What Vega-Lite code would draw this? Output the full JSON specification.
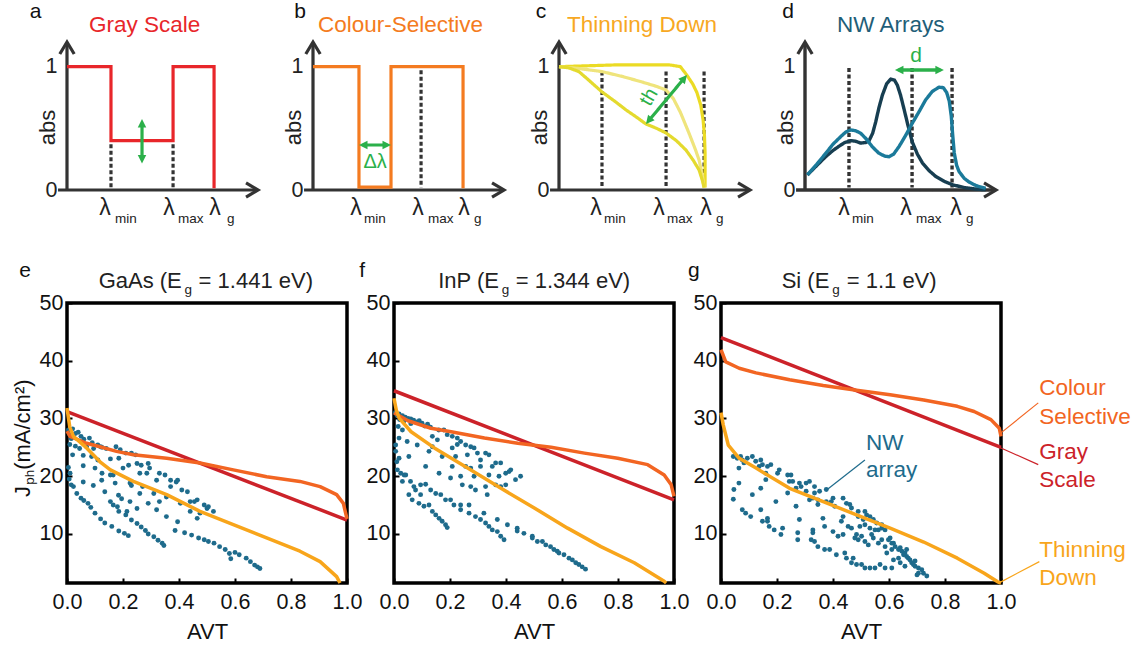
{
"$schema":"https://vega.github.io/schema/vega-lite/v6.json",
"autosize":{"type":"none"},
"padding":{"left":67,"top":42,"right":1069,"bottom":603},
"config":{"font":"Liberation Sans","view":{"stroke":null},"axis":{"grid":false,"labelFont":"Liberation Sans","titleFont":"Liberation Sans"},"text":{"font":"Liberation Sans"}},
"spacing":32,
"resolve":{"scale":{"x":"independent","y":"independent","color":"independent","strokeDash":"independent"}},
"datasets":{
"schem":[
{"p":"a","s":"ax","c":"axis","k":"solid","o":1,"x":-0.045,"y":0},{"p":"a","s":"ax","c":"axis","k":"solid","o":2,"x":0.955,"y":0},
{"p":"a","s":"ay","c":"axis","k":"solid","o":1,"x":0,"y":0},{"p":"a","s":"ay","c":"axis","k":"solid","o":2,"x":0,"y":1.19},
{"p":"a","s":"d1","c":"axis","k":"dot","o":1,"x":0.221,"y":0.37},{"p":"a","s":"d1","c":"axis","k":"dot","o":2,"x":0.221,"y":0.02},
{"p":"a","s":"d2","c":"axis","k":"dot","o":1,"x":0.533,"y":0.37},{"p":"a","s":"d2","c":"axis","k":"dot","o":2,"x":0.533,"y":0.02},
{"p":"a","s":"gray","c":"gray","k":"solid","o":1,"x":0,"y":1},{"p":"a","s":"gray","c":"gray","k":"solid","o":2,"x":0.221,"y":1},{"p":"a","s":"gray","c":"gray","k":"solid","o":3,"x":0.221,"y":0.4},{"p":"a","s":"gray","c":"gray","k":"solid","o":4,"x":0.533,"y":0.4},{"p":"a","s":"gray","c":"gray","k":"solid","o":5,"x":0.533,"y":1},{"p":"a","s":"gray","c":"gray","k":"solid","o":6,"x":0.739,"y":1},{"p":"a","s":"gray","c":"gray","k":"solid","o":7,"x":0.739,"y":0.015},
{"p":"a","s":"g1","c":"green","k":"solid","o":1,"x":0.377,"y":0.54},{"p":"a","s":"g1","c":"green","k":"solid","o":2,"x":0.377,"y":0.25},
{"p":"b","s":"ax","c":"axis","k":"solid","o":1,"x":-0.045,"y":0},{"p":"b","s":"ax","c":"axis","k":"solid","o":2,"x":0.955,"y":0},
{"p":"b","s":"ay","c":"axis","k":"solid","o":1,"x":0,"y":0},{"p":"b","s":"ay","c":"axis","k":"solid","o":2,"x":0,"y":1.19},
{"p":"b","s":"d1","c":"axis","k":"dot","o":1,"x":0.543,"y":0.97},{"p":"b","s":"d1","c":"axis","k":"dot","o":2,"x":0.543,"y":0.02},
{"p":"b","s":"col","c":"colour","k":"solid","o":1,"x":0,"y":1},{"p":"b","s":"col","c":"colour","k":"solid","o":2,"x":0.231,"y":1},{"p":"b","s":"col","c":"colour","k":"solid","o":3,"x":0.231,"y":0.024},{"p":"b","s":"col","c":"colour","k":"solid","o":4,"x":0.392,"y":0.024},{"p":"b","s":"col","c":"colour","k":"solid","o":5,"x":0.392,"y":1},{"p":"b","s":"col","c":"colour","k":"solid","o":6,"x":0.754,"y":1},{"p":"b","s":"col","c":"colour","k":"solid","o":7,"x":0.754,"y":0.015},
{"p":"b","s":"g1","c":"green","k":"solid","o":1,"x":0.25,"y":0.365},{"p":"b","s":"g1","c":"green","k":"solid","o":2,"x":0.373,"y":0.365},
{"p":"c","s":"ax","c":"axis","k":"solid","o":1,"x":-0.045,"y":0},{"p":"c","s":"ax","c":"axis","k":"solid","o":2,"x":0.955,"y":0},
{"p":"c","s":"ay","c":"axis","k":"solid","o":1,"x":0,"y":0},{"p":"c","s":"ay","c":"axis","k":"solid","o":2,"x":0,"y":1.19},
{"p":"c","s":"d1","c":"axis","k":"dot","o":1,"x":0.216,"y":0.96},{"p":"c","s":"d1","c":"axis","k":"dot","o":2,"x":0.216,"y":0.02},
{"p":"c","s":"d2","c":"axis","k":"dot","o":1,"x":0.538,"y":0.96},{"p":"c","s":"d2","c":"axis","k":"dot","o":2,"x":0.538,"y":0.02},
{"p":"c","s":"d3","c":"axis","k":"dot","o":1,"x":0.729,"y":0.96},{"p":"c","s":"d3","c":"axis","k":"dot","o":2,"x":0.729,"y":0.02},
{"p":"c","s":"t1","c":"thin1","k":"solid","o":1,"x":0,"y":1.0},{"p":"c","s":"t1","c":"thin1","k":"solid","o":2,"x":0.3,"y":1.015},{"p":"c","s":"t1","c":"thin1","k":"solid","o":3,"x":0.553,"y":1.015},{"p":"c","s":"t1","c":"thin1","k":"solid","o":4,"x":0.61,"y":1.0},{"p":"c","s":"t1","c":"thin1","k":"solid","o":5,"x":0.643,"y":0.93},{"p":"c","s":"t1","c":"thin1","k":"solid","o":6,"x":0.672,"y":0.86},{"p":"c","s":"t1","c":"thin1","k":"solid","o":7,"x":0.693,"y":0.79},{"p":"c","s":"t1","c":"thin1","k":"solid","o":8,"x":0.712,"y":0.69},{"p":"c","s":"t1","c":"thin1","k":"solid","o":9,"x":0.724,"y":0.57},{"p":"c","s":"t1","c":"thin1","k":"solid","o":10,"x":0.731,"y":0.44},{"p":"c","s":"t1","c":"thin1","k":"solid","o":11,"x":0.734,"y":0.3},{"p":"c","s":"t1","c":"thin1","k":"solid","o":12,"x":0.734,"y":0.02},
{"p":"c","s":"t2","c":"thin2","k":"solid","o":1,"x":0,"y":1.0},{"p":"c","s":"t2","c":"thin2","k":"solid","o":2,"x":0.1,"y":0.985},{"p":"c","s":"t2","c":"thin2","k":"solid","o":3,"x":0.216,"y":0.96},{"p":"c","s":"t2","c":"thin2","k":"solid","o":4,"x":0.32,"y":0.92},{"p":"c","s":"t2","c":"thin2","k":"solid","o":5,"x":0.417,"y":0.876},{"p":"c","s":"t2","c":"thin2","k":"solid","o":6,"x":0.49,"y":0.84},{"p":"c","s":"t2","c":"thin2","k":"solid","o":7,"x":0.538,"y":0.811},{"p":"c","s":"t2","c":"thin2","k":"solid","o":8,"x":0.575,"y":0.74},{"p":"c","s":"t2","c":"thin2","k":"solid","o":9,"x":0.61,"y":0.63},{"p":"c","s":"t2","c":"thin2","k":"solid","o":10,"x":0.653,"y":0.462},{"p":"c","s":"t2","c":"thin2","k":"solid","o":11,"x":0.685,"y":0.33},{"p":"c","s":"t2","c":"thin2","k":"solid","o":12,"x":0.704,"y":0.243},{"p":"c","s":"t2","c":"thin2","k":"solid","o":13,"x":0.72,"y":0.12},{"p":"c","s":"t2","c":"thin2","k":"solid","o":14,"x":0.729,"y":0.02},
{"p":"c","s":"t3","c":"thin3","k":"solid","o":1,"x":0,"y":1.0},{"p":"c","s":"t3","c":"thin3","k":"solid","o":2,"x":0.05,"y":0.99},{"p":"c","s":"t3","c":"thin3","k":"solid","o":3,"x":0.1,"y":0.96},{"p":"c","s":"t3","c":"thin3","k":"solid","o":4,"x":0.15,"y":0.89},{"p":"c","s":"t3","c":"thin3","k":"solid","o":5,"x":0.216,"y":0.795},{"p":"c","s":"t3","c":"thin3","k":"solid","o":6,"x":0.28,"y":0.72},{"p":"c","s":"t3","c":"thin3","k":"solid","o":7,"x":0.337,"y":0.649},{"p":"c","s":"t3","c":"thin3","k":"solid","o":8,"x":0.39,"y":0.59},{"p":"c","s":"t3","c":"thin3","k":"solid","o":9,"x":0.437,"y":0.535},{"p":"c","s":"t3","c":"thin3","k":"solid","o":10,"x":0.49,"y":0.5},{"p":"c","s":"t3","c":"thin3","k":"solid","o":11,"x":0.538,"y":0.462},{"p":"c","s":"t3","c":"thin3","k":"solid","o":12,"x":0.59,"y":0.4},{"p":"c","s":"t3","c":"thin3","k":"solid","o":13,"x":0.638,"y":0.324},{"p":"c","s":"t3","c":"thin3","k":"solid","o":14,"x":0.675,"y":0.24},{"p":"c","s":"t3","c":"thin3","k":"solid","o":15,"x":0.704,"y":0.162},{"p":"c","s":"t3","c":"thin3","k":"solid","o":16,"x":0.72,"y":0.08},{"p":"c","s":"t3","c":"thin3","k":"solid","o":17,"x":0.729,"y":0.02},
{"p":"c","s":"g1","c":"green","k":"solid","o":1,"x":0.462,"y":0.583},{"p":"c","s":"g1","c":"green","k":"solid","o":2,"x":0.618,"y":0.885},
{"p":"d","s":"ax","c":"axis","k":"solid","o":1,"x":-0.045,"y":0},{"p":"d","s":"ax","c":"axis","k":"solid","o":2,"x":0.955,"y":0},
{"p":"d","s":"ay","c":"axis","k":"solid","o":1,"x":0,"y":0},{"p":"d","s":"ay","c":"axis","k":"solid","o":2,"x":0,"y":1.19},
{"p":"d","s":"d1","c":"axis","k":"dot","o":1,"x":0.221,"y":0.99},{"p":"d","s":"d1","c":"axis","k":"dot","o":2,"x":0.221,"y":0.02},
{"p":"d","s":"d2","c":"axis","k":"dot","o":1,"x":0.538,"y":0.99},{"p":"d","s":"d2","c":"axis","k":"dot","o":2,"x":0.538,"y":0.02},
{"p":"d","s":"d3","c":"axis","k":"dot","o":1,"x":0.739,"y":0.99},{"p":"d","s":"d3","c":"axis","k":"dot","o":2,"x":0.739,"y":0.02},
{"p":"d","s":"n1","c":"nw1","k":"solid","o":1,"x":0.012,"y":0.122},{"p":"d","s":"n1","c":"nw1","k":"solid","o":2,"x":0.06,"y":0.2},{"p":"d","s":"n1","c":"nw1","k":"solid","o":3,"x":0.104,"y":0.27},{"p":"d","s":"n1","c":"nw1","k":"solid","o":4,"x":0.14,"y":0.32},{"p":"d","s":"n1","c":"nw1","k":"solid","o":5,"x":0.171,"y":0.355},{"p":"d","s":"n1","c":"nw1","k":"solid","o":6,"x":0.2,"y":0.385},{"p":"d","s":"n1","c":"nw1","k":"solid","o":7,"x":0.23,"y":0.4},{"p":"d","s":"n1","c":"nw1","k":"solid","o":8,"x":0.255,"y":0.395},{"p":"d","s":"n1","c":"nw1","k":"solid","o":9,"x":0.28,"y":0.38},{"p":"d","s":"n1","c":"nw1","k":"solid","o":10,"x":0.305,"y":0.385},{"p":"d","s":"n1","c":"nw1","k":"solid","o":11,"x":0.322,"y":0.4},{"p":"d","s":"n1","c":"nw1","k":"solid","o":12,"x":0.34,"y":0.46},{"p":"d","s":"n1","c":"nw1","k":"solid","o":13,"x":0.355,"y":0.55},{"p":"d","s":"n1","c":"nw1","k":"solid","o":14,"x":0.372,"y":0.67},{"p":"d","s":"n1","c":"nw1","k":"solid","o":15,"x":0.389,"y":0.77},{"p":"d","s":"n1","c":"nw1","k":"solid","o":16,"x":0.41,"y":0.86},{"p":"d","s":"n1","c":"nw1","k":"solid","o":17,"x":0.431,"y":0.9},{"p":"d","s":"n1","c":"nw1","k":"solid","o":18,"x":0.45,"y":0.89},{"p":"d","s":"n1","c":"nw1","k":"solid","o":19,"x":0.464,"y":0.85},{"p":"d","s":"n1","c":"nw1","k":"solid","o":20,"x":0.48,"y":0.77},{"p":"d","s":"n1","c":"nw1","k":"solid","o":21,"x":0.497,"y":0.66},{"p":"d","s":"n1","c":"nw1","k":"solid","o":22,"x":0.518,"y":0.52},{"p":"d","s":"n1","c":"nw1","k":"solid","o":23,"x":0.539,"y":0.39},{"p":"d","s":"n1","c":"nw1","k":"solid","o":24,"x":0.565,"y":0.29},{"p":"d","s":"n1","c":"nw1","k":"solid","o":25,"x":0.59,"y":0.22},{"p":"d","s":"n1","c":"nw1","k":"solid","o":26,"x":0.625,"y":0.155},{"p":"d","s":"n1","c":"nw1","k":"solid","o":27,"x":0.657,"y":0.11},{"p":"d","s":"n1","c":"nw1","k":"solid","o":28,"x":0.7,"y":0.07},{"p":"d","s":"n1","c":"nw1","k":"solid","o":29,"x":0.74,"y":0.043},{"p":"d","s":"n1","c":"nw1","k":"solid","o":30,"x":0.8,"y":0.02},{"p":"d","s":"n1","c":"nw1","k":"solid","o":31,"x":0.858,"y":0.008},{"p":"d","s":"n1","c":"nw1","k":"solid","o":32,"x":0.908,"y":0.002},
{"p":"d","s":"n2","c":"nw2","k":"solid","o":1,"x":0.012,"y":0.122},{"p":"d","s":"n2","c":"nw2","k":"solid","o":2,"x":0.06,"y":0.21},{"p":"d","s":"n2","c":"nw2","k":"solid","o":3,"x":0.104,"y":0.297},{"p":"d","s":"n2","c":"nw2","k":"solid","o":4,"x":0.14,"y":0.37},{"p":"d","s":"n2","c":"nw2","k":"solid","o":5,"x":0.179,"y":0.432},{"p":"d","s":"n2","c":"nw2","k":"solid","o":6,"x":0.205,"y":0.47},{"p":"d","s":"n2","c":"nw2","k":"solid","o":7,"x":0.23,"y":0.487},{"p":"d","s":"n2","c":"nw2","k":"solid","o":8,"x":0.255,"y":0.48},{"p":"d","s":"n2","c":"nw2","k":"solid","o":9,"x":0.28,"y":0.46},{"p":"d","s":"n2","c":"nw2","k":"solid","o":10,"x":0.31,"y":0.41},{"p":"d","s":"n2","c":"nw2","k":"solid","o":11,"x":0.338,"y":0.351},{"p":"d","s":"n2","c":"nw2","k":"solid","o":12,"x":0.37,"y":0.3},{"p":"d","s":"n2","c":"nw2","k":"solid","o":13,"x":0.4,"y":0.275},{"p":"d","s":"n2","c":"nw2","k":"solid","o":14,"x":0.422,"y":0.27},{"p":"d","s":"n2","c":"nw2","k":"solid","o":15,"x":0.445,"y":0.29},{"p":"d","s":"n2","c":"nw2","k":"solid","o":16,"x":0.472,"y":0.351},{"p":"d","s":"n2","c":"nw2","k":"solid","o":17,"x":0.505,"y":0.44},{"p":"d","s":"n2","c":"nw2","k":"solid","o":18,"x":0.539,"y":0.541},{"p":"d","s":"n2","c":"nw2","k":"solid","o":19,"x":0.575,"y":0.64},{"p":"d","s":"n2","c":"nw2","k":"solid","o":20,"x":0.606,"y":0.73},{"p":"d","s":"n2","c":"nw2","k":"solid","o":21,"x":0.64,"y":0.8},{"p":"d","s":"n2","c":"nw2","k":"solid","o":22,"x":0.673,"y":0.833},{"p":"d","s":"n2","c":"nw2","k":"solid","o":23,"x":0.695,"y":0.83},{"p":"d","s":"n2","c":"nw2","k":"solid","o":24,"x":0.712,"y":0.79},{"p":"d","s":"n2","c":"nw2","k":"solid","o":25,"x":0.725,"y":0.72},{"p":"d","s":"n2","c":"nw2","k":"solid","o":26,"x":0.735,"y":0.6},{"p":"d","s":"n2","c":"nw2","k":"solid","o":27,"x":0.742,"y":0.45},{"p":"d","s":"n2","c":"nw2","k":"solid","o":28,"x":0.75,"y":0.3},{"p":"d","s":"n2","c":"nw2","k":"solid","o":29,"x":0.762,"y":0.2},{"p":"d","s":"n2","c":"nw2","k":"solid","o":30,"x":0.774,"y":0.15},{"p":"d","s":"n2","c":"nw2","k":"solid","o":31,"x":0.8,"y":0.095},{"p":"d","s":"n2","c":"nw2","k":"solid","o":32,"x":0.824,"y":0.065},{"p":"d","s":"n2","c":"nw2","k":"solid","o":33,"x":0.86,"y":0.035},{"p":"d","s":"n2","c":"nw2","k":"solid","o":34,"x":0.908,"y":0.014},
{"p":"d","s":"g1","c":"green","k":"solid","o":1,"x":0.47,"y":0.973},{"p":"d","s":"g1","c":"green","k":"solid","o":2,"x":0.68,"y":0.973}
],
"heads":[
{"p":"a","k":"chev","x":0.96,"y":0,"ang":90},{"p":"a","k":"chev","x":0,"y":1.2,"ang":0},
{"p":"b","k":"chev","x":0.96,"y":0,"ang":90},{"p":"b","k":"chev","x":0,"y":1.2,"ang":0},
{"p":"c","k":"chev","x":0.96,"y":0,"ang":90},{"p":"c","k":"chev","x":0,"y":1.2,"ang":0},
{"p":"d","k":"chev","x":0.96,"y":0,"ang":90},{"p":"d","k":"chev","x":0,"y":1.2,"ang":0},
{"p":"a","k":"tri","x":0.377,"y":0.575,"ang":0},{"p":"a","k":"tri","x":0.377,"y":0.215,"ang":180},
{"p":"b","k":"tri","x":0.231,"y":0.365,"ang":270},{"p":"b","k":"tri","x":0.392,"y":0.365,"ang":90},
{"p":"c","k":"tri","x":0.643,"y":0.933,"ang":39.4},{"p":"c","k":"tri","x":0.437,"y":0.535,"ang":219.4},
{"p":"d","k":"tri","x":0.452,"y":0.973,"ang":270},{"p":"d","k":"tri","x":0.698,"y":0.973,"ang":90}
],
"tlab":[
{"p":"a","k":"letter","t":"a","x":-0.158,"y":1.395},{"p":"a","k":"title","c":"gray","t":"Gray Scale","x":0.111,"y":1.281},
{"p":"a","k":"lam","t":"λ","x":0.191,"y":-0.203},{"p":"a","k":"lam","t":"λ","x":0.513,"y":-0.203},{"p":"a","k":"lam","t":"λ","x":0.744,"y":-0.203},
{"p":"a","k":"sub","t":"min","x":0.241,"y":-0.268},{"p":"a","k":"sub","t":"max","x":0.558,"y":-0.268},{"p":"a","k":"sub","t":"g","x":0.804,"y":-0.268},
{"p":"b","k":"letter","t":"b","x":-0.065,"y":1.395},{"p":"b","k":"title","c":"colour","t":"Colour-Selective","x":0.025,"y":1.281},
{"p":"b","k":"lam","t":"λ","x":0.216,"y":-0.203},{"p":"b","k":"lam","t":"λ","x":0.528,"y":-0.203},{"p":"b","k":"lam","t":"λ","x":0.759,"y":-0.203},
{"p":"b","k":"sub","t":"min","x":0.256,"y":-0.268},{"p":"b","k":"sub","t":"max","x":0.578,"y":-0.268},{"p":"b","k":"sub","t":"g","x":0.809,"y":-0.268},
{"p":"b","k":"green","t":"Δλ","x":0.312,"y":0.178,"ang":0},
{"p":"c","k":"letter","t":"c","x":-0.09,"y":1.395},{"p":"c","k":"title","c":"thinT","t":"Thinning Down","x":0.04,"y":1.281},
{"p":"c","k":"lam","t":"λ","x":0.186,"y":-0.203},{"p":"c","k":"lam","t":"λ","x":0.503,"y":-0.203},{"p":"c","k":"lam","t":"λ","x":0.739,"y":-0.203},
{"p":"c","k":"sub","t":"min","x":0.226,"y":-0.268},{"p":"c","k":"sub","t":"max","x":0.543,"y":-0.268},{"p":"c","k":"sub","t":"g","x":0.789,"y":-0.268},
{"p":"c","k":"green","t":"th","x":0.452,"y":0.754,"ang":-60},
{"p":"d","k":"letter","t":"d","x":-0.085,"y":1.395},{"p":"d","k":"title","c":"nwT","t":"NW Arrays","x":0.161,"y":1.281},
{"p":"d","k":"lam","t":"λ","x":0.196,"y":-0.203},{"p":"d","k":"lam","t":"λ","x":0.508,"y":-0.203},{"p":"d","k":"lam","t":"λ","x":0.759,"y":-0.203},
{"p":"d","k":"sub","t":"min","x":0.236,"y":-0.268},{"p":"d","k":"sub","t":"max","x":0.558,"y":-0.268},{"p":"d","k":"sub","t":"g","x":0.809,"y":-0.268},
{"p":"d","k":"green","t":"d","x":0.558,"y":1.04,"ang":0}
],
"jl":[
{"p":"e","s":"gs","o":1,"avt":0,"jph":31.2},{"p":"e","s":"gs","o":2,"avt":1,"jph":12.4},
{"p":"e","s":"cs","o":1,"avt":0,"jph":27.8},{"p":"e","s":"cs","o":2,"avt":0.011,"jph":26.9},{"p":"e","s":"cs","o":3,"avt":0.07,"jph":25.7},{"p":"e","s":"cs","o":4,"avt":0.118,"jph":25.1},{"p":"e","s":"cs","o":5,"avt":0.177,"jph":24.3},{"p":"e","s":"cs","o":6,"avt":0.237,"jph":23.7},{"p":"e","s":"cs","o":7,"avt":0.356,"jph":23.1},{"p":"e","s":"cs","o":8,"avt":0.475,"jph":22.3},{"p":"e","s":"cs","o":9,"avt":0.594,"jph":21.1},{"p":"e","s":"cs","o":10,"avt":0.713,"jph":19.9},{"p":"e","s":"cs","o":11,"avt":0.832,"jph":19.1},{"p":"e","s":"cs","o":12,"avt":0.904,"jph":18.2},{"p":"e","s":"cs","o":13,"avt":0.963,"jph":16.8},{"p":"e","s":"cs","o":14,"avt":0.987,"jph":15.3},{"p":"e","s":"cs","o":15,"avt":1.0,"jph":12.6},
{"p":"e","s":"td","o":1,"avt":0,"jph":31.8},{"p":"e","s":"td","o":2,"avt":0.01,"jph":28.5},{"p":"e","s":"td","o":3,"avt":0.023,"jph":26.9},{"p":"e","s":"td","o":4,"avt":0.07,"jph":24.9},{"p":"e","s":"td","o":5,"avt":0.118,"jph":22.5},{"p":"e","s":"td","o":6,"avt":0.155,"jph":21.1},{"p":"e","s":"td","o":7,"avt":0.237,"jph":19.1},{"p":"e","s":"td","o":8,"avt":0.356,"jph":16.8},{"p":"e","s":"td","o":9,"avt":0.475,"jph":13.9},{"p":"e","s":"td","o":10,"avt":0.594,"jph":11.6},{"p":"e","s":"td","o":11,"avt":0.713,"jph":9.3},{"p":"e","s":"td","o":12,"avt":0.832,"jph":7.0},{"p":"e","s":"td","o":13,"avt":0.904,"jph":5.2},{"p":"e","s":"td","o":14,"avt":0.963,"jph":2.6},{"p":"e","s":"td","o":15,"avt":0.975,"jph":1.5},
{"p":"f","s":"gs","o":1,"avt":0,"jph":34.8},{"p":"f","s":"gs","o":2,"avt":1,"jph":15.9},
{"p":"f","s":"cs","o":1,"avt":0,"jph":31.0},{"p":"f","s":"cs","o":2,"avt":0.05,"jph":29.6},{"p":"f","s":"cs","o":3,"avt":0.132,"jph":28.3},{"p":"f","s":"cs","o":4,"avt":0.204,"jph":27.7},{"p":"f","s":"cs","o":5,"avt":0.323,"jph":26.6},{"p":"f","s":"cs","o":6,"avt":0.442,"jph":25.7},{"p":"f","s":"cs","o":7,"avt":0.561,"jph":25.0},{"p":"f","s":"cs","o":8,"avt":0.68,"jph":24.0},{"p":"f","s":"cs","o":9,"avt":0.799,"jph":23.1},{"p":"f","s":"cs","o":10,"avt":0.906,"jph":22.0},{"p":"f","s":"cs","o":11,"avt":0.965,"jph":20.2},{"p":"f","s":"cs","o":12,"avt":0.99,"jph":18.5},{"p":"f","s":"cs","o":13,"avt":1.0,"jph":16.5},
{"p":"f","s":"td","o":1,"avt":0,"jph":33.5},{"p":"f","s":"td","o":2,"avt":0.008,"jph":31.5},{"p":"f","s":"td","o":3,"avt":0.019,"jph":30.0},{"p":"f","s":"td","o":4,"avt":0.061,"jph":27.7},{"p":"f","s":"td","o":5,"avt":0.144,"jph":24.9},{"p":"f","s":"td","o":6,"avt":0.263,"jph":21.4},{"p":"f","s":"td","o":7,"avt":0.382,"jph":17.9},{"p":"f","s":"td","o":8,"avt":0.501,"jph":14.5},{"p":"f","s":"td","o":9,"avt":0.62,"jph":11.0},{"p":"f","s":"td","o":10,"avt":0.739,"jph":7.8},{"p":"f","s":"td","o":11,"avt":0.858,"jph":5.0},{"p":"f","s":"td","o":12,"avt":0.965,"jph":1.8},{"p":"f","s":"td","o":13,"avt":0.972,"jph":1.5},
{"p":"g","s":"gs","o":1,"avt":0,"jph":44.0},{"p":"g","s":"gs","o":2,"avt":1,"jph":25.0},
{"p":"g","s":"cs","o":1,"avt":0,"jph":41.9},{"p":"g","s":"cs","o":2,"avt":0.017,"jph":39.8},{"p":"g","s":"cs","o":3,"avt":0.065,"jph":38.7},{"p":"g","s":"cs","o":4,"avt":0.125,"jph":37.9},{"p":"g","s":"cs","o":5,"avt":0.245,"jph":36.7},{"p":"g","s":"cs","o":6,"avt":0.365,"jph":35.7},{"p":"g","s":"cs","o":7,"avt":0.484,"jph":34.9},{"p":"g","s":"cs","o":8,"avt":0.604,"jph":34.1},{"p":"g","s":"cs","o":9,"avt":0.724,"jph":33.2},{"p":"g","s":"cs","o":10,"avt":0.844,"jph":32.1},{"p":"g","s":"cs","o":11,"avt":0.904,"jph":31.2},{"p":"g","s":"cs","o":12,"avt":0.964,"jph":29.8},{"p":"g","s":"cs","o":13,"avt":0.994,"jph":28.3},{"p":"g","s":"cs","o":14,"avt":1.0,"jph":26.9},
{"p":"g","s":"td","o":1,"avt":0,"jph":31.0},{"p":"g","s":"td","o":2,"avt":0.008,"jph":28.9},{"p":"g","s":"td","o":3,"avt":0.026,"jph":25.4},{"p":"g","s":"td","o":4,"avt":0.065,"jph":23.1},{"p":"g","s":"td","o":5,"avt":0.125,"jph":21.4},{"p":"g","s":"td","o":6,"avt":0.245,"jph":17.9},{"p":"g","s":"td","o":7,"avt":0.365,"jph":15.6},{"p":"g","s":"td","o":8,"avt":0.484,"jph":13.3},{"p":"g","s":"td","o":9,"avt":0.604,"jph":11.0},{"p":"g","s":"td","o":10,"avt":0.724,"jph":8.6},{"p":"g","s":"td","o":11,"avt":0.844,"jph":5.8},{"p":"g","s":"td","o":12,"avt":0.94,"jph":3.2},{"p":"g","s":"td","o":13,"avt":0.988,"jph":1.7},{"p":"g","s":"td","o":14,"avt":1.0,"jph":1.5}
],
"lead":[
{"s":"cs","o":1,"avt":1.0,"jph":27.5},{"s":"cs","o":2,"avt":1.133,"jph":32.7},
{"s":"gs","o":1,"avt":0.99,"jph":25.1},{"s":"gs","o":2,"avt":1.133,"jph":22.0},
{"s":"td","o":1,"avt":1.0,"jph":1.7},{"s":"td","o":2,"avt":1.137,"jph":5.2},
{"s":"nw","o":1,"avt":0.377,"jph":17.6},{"s":"nw","o":2,"avt":0.514,"jph":22.8}
],
"bt":[
{"p":"e","k":"tl","t":"GaAs (E","avt":0.41,"jph":52.6},{"p":"e","k":"ts","t":"g","avt":0.433,"jph":51.6},{"p":"e","k":"tr","t":"= 1.441 eV)","avt":0.47,"jph":52.6},{"p":"e","k":"let","t":"e","avt":-0.15,"jph":54.5},
{"p":"e","k":"yb","t":"J","avt":-0.132,"jph":16.4},{"p":"e","k":"yb","t":"(mA/cm²)","avt":-0.132,"jph":21.1},{"p":"e","k":"ys","t":"ph","avt":-0.118,"jph":18.5},
{"p":"f","k":"tl","t":"InP (E","avt":0.375,"jph":52.6},{"p":"f","k":"ts","t":"g","avt":0.398,"jph":51.6},{"p":"f","k":"tr","t":"= 1.344 eV)","avt":0.435,"jph":52.6},{"p":"f","k":"let","t":"f","avt":-0.114,"jph":54.5},
{"p":"g","k":"tl","t":"Si (E","avt":0.387,"jph":52.6},{"p":"g","k":"ts","t":"g","avt":0.411,"jph":51.6},{"p":"g","k":"tr","t":"= 1.1 eV)","avt":0.449,"jph":52.6},{"p":"g","k":"let","t":"g","avt":-0.097,"jph":54.5},
{"p":"g","k":"ann","c":"cs","t":"Colour","avt":1.137,"jph":35.3},{"p":"g","k":"ann","c":"cs","t":"Selective","avt":1.137,"jph":30.3},
{"p":"g","k":"ann","c":"gs","t":"Gray","avt":1.137,"jph":24.2},{"p":"g","k":"ann","c":"gs","t":"Scale","avt":1.137,"jph":19.4},
{"p":"g","k":"ann","c":"td","t":"Thinning","avt":1.137,"jph":7.3},{"p":"g","k":"ann","c":"td","t":"Down","avt":1.137,"jph":2.4},
{"p":"g","k":"ann","c":"nw","t":"NW","avt":0.518,"jph":25.8},{"p":"g","k":"ann","c":"nw","t":"array","avt":0.518,"jph":21.1}
],
"dots":[
{"p":"e","avt":0.005,"jph":28.0},{"p":"e","avt":0.01,"jph":27.2},{"p":"e","avt":0.015,"jph":26.5},{"p":"e","avt":0.02,"jph":28.2},{"p":"e","avt":0.03,"jph":27.4},{"p":"e","avt":0.04,"jph":27.6},{"p":"e","avt":0.05,"jph":26.9},{"p":"e","avt":0.06,"jph":26.4},{"p":"e","avt":0.08,"jph":26.6},{"p":"e","avt":0.09,"jph":25.8},{"p":"e","avt":0.11,"jph":25.4},{"p":"e","avt":0.125,"jph":25.0},
{"p":"e","avt":0.01,"jph":25.5},{"p":"e","avt":0.03,"jph":25.2},{"p":"e","avt":0.045,"jph":24.8},{"p":"e","avt":0.07,"jph":25.1},{"p":"e","avt":0.095,"jph":24.8},{"p":"e","avt":0.12,"jph":25.1},{"p":"e","avt":0.14,"jph":24.8},{"p":"e","avt":0.175,"jph":25.1},{"p":"e","avt":0.19,"jph":24.6},{"p":"e","avt":0.21,"jph":24.0},{"p":"e","avt":0.23,"jph":24.0},{"p":"e","avt":0.245,"jph":23.7},
{"p":"e","avt":0.02,"jph":23.7},{"p":"e","avt":0.058,"jph":23.6},{"p":"e","avt":0.088,"jph":23.4},{"p":"e","avt":0.11,"jph":22.8},{"p":"e","avt":0.155,"jph":23.0},{"p":"e","avt":0.185,"jph":23.1},{"p":"e","avt":0.2,"jph":21.4},{"p":"e","avt":0.22,"jph":21.9},{"p":"e","avt":0.25,"jph":22.2},{"p":"e","avt":0.265,"jph":21.9},{"p":"e","avt":0.29,"jph":22.2},{"p":"e","avt":0.295,"jph":21.4},
{"p":"e","avt":0.011,"jph":20.5},{"p":"e","avt":0.058,"jph":21.8},{"p":"e","avt":0.1,"jph":21.4},{"p":"e","avt":0.125,"jph":20.5},{"p":"e","avt":0.155,"jph":20.2},{"p":"e","avt":0.165,"jph":20.2},{"p":"e","avt":0.124,"jph":19.3},{"p":"e","avt":0.172,"jph":18.8},{"p":"e","avt":0.225,"jph":18.8},{"p":"e","avt":0.26,"jph":20.5},{"p":"e","avt":0.285,"jph":20.5},{"p":"e","avt":0.33,"jph":20.5},{"p":"e","avt":0.35,"jph":20.2},{"p":"e","avt":0.32,"jph":19.3},{"p":"e","avt":0.37,"jph":19.3},{"p":"e","avt":0.39,"jph":19.0},{"p":"e","avt":0.395,"jph":19.3},
{"p":"e","avt":0.023,"jph":18.2},{"p":"e","avt":0.058,"jph":19.0},{"p":"e","avt":0.094,"jph":18.4},{"p":"e","avt":0.135,"jph":17.3},{"p":"e","avt":0.184,"jph":16.7},{"p":"e","avt":0.23,"jph":18.4},{"p":"e","avt":0.27,"jph":18.2},{"p":"e","avt":0.26,"jph":17.0},{"p":"e","avt":0.31,"jph":17.0},{"p":"e","avt":0.37,"jph":18.2},{"p":"e","avt":0.41,"jph":17.6},{"p":"e","avt":0.43,"jph":17.3},{"p":"e","avt":0.355,"jph":16.4},{"p":"e","avt":0.33,"jph":15.6},{"p":"e","avt":0.195,"jph":16.1},
{"p":"e","avt":0.165,"jph":15.0},{"p":"e","avt":0.225,"jph":15.6},{"p":"e","avt":0.29,"jph":15.3},{"p":"e","avt":0.25,"jph":14.4},{"p":"e","avt":0.32,"jph":14.2},{"p":"e","avt":0.405,"jph":15.3},{"p":"e","avt":0.44,"jph":15.6},{"p":"e","avt":0.455,"jph":15.6},{"p":"e","avt":0.465,"jph":15.9},{"p":"e","avt":0.49,"jph":15.0},{"p":"e","avt":0.5,"jph":14.4},{"p":"e","avt":0.505,"jph":14.7},{"p":"e","avt":0.523,"jph":13.9},{"p":"e","avt":0.44,"jph":13.9},{"p":"e","avt":0.475,"jph":13.6},{"p":"e","avt":0.465,"jph":12.7},{"p":"e","avt":0.355,"jph":13.0},{"p":"e","avt":0.395,"jph":12.1},{"p":"e","avt":0.214,"jph":13.9},{"p":"e","avt":0.185,"jph":13.9},
{"p":"e","avt":0.005,"jph":21.5},{"p":"e","avt":0.008,"jph":19.5},{"p":"e","avt":0.015,"jph":18.5},{"p":"e","avt":0.035,"jph":17.0},{"p":"e","avt":0.05,"jph":16.2},{"p":"e","avt":0.06,"jph":15.8},{"p":"e","avt":0.075,"jph":15.3},{"p":"e","avt":0.085,"jph":14.6},{"p":"e","avt":0.1,"jph":13.6},{"p":"e","avt":0.12,"jph":12.6},{"p":"e","avt":0.135,"jph":11.9},{"p":"e","avt":0.16,"jph":11.3},{"p":"e","avt":0.185,"jph":10.5},{"p":"e","avt":0.205,"jph":10.1},{"p":"e","avt":0.219,"jph":9.7},
{"p":"e","avt":0.155,"jph":15.6},{"p":"e","avt":0.18,"jph":14.7},{"p":"e","avt":0.21,"jph":13.3},{"p":"e","avt":0.23,"jph":12.4},{"p":"e","avt":0.25,"jph":11.8},{"p":"e","avt":0.265,"jph":11.2},{"p":"e","avt":0.28,"jph":10.6},{"p":"e","avt":0.29,"jph":10.0},{"p":"e","avt":0.31,"jph":9.5},{"p":"e","avt":0.325,"jph":8.9},{"p":"e","avt":0.34,"jph":8.4},{"p":"e","avt":0.346,"jph":8.0},
{"p":"e","avt":0.386,"jph":10.6},{"p":"e","avt":0.42,"jph":10.2},{"p":"e","avt":0.445,"jph":9.8},{"p":"e","avt":0.47,"jph":9.3},{"p":"e","avt":0.49,"jph":9.0},{"p":"e","avt":0.505,"jph":8.7},{"p":"e","avt":0.525,"jph":8.4},{"p":"e","avt":0.545,"jph":7.8},{"p":"e","avt":0.565,"jph":7.3},{"p":"e","avt":0.58,"jph":6.6},{"p":"e","avt":0.585,"jph":5.7},{"p":"e","avt":0.6,"jph":6.8},{"p":"e","avt":0.615,"jph":6.4},{"p":"e","avt":0.64,"jph":5.8},{"p":"e","avt":0.655,"jph":5.2},{"p":"e","avt":0.67,"jph":4.6},{"p":"e","avt":0.68,"jph":4.3},{"p":"e","avt":0.689,"jph":4.0},
{"p":"f","avt":0.005,"jph":31.0},{"p":"f","avt":0.01,"jph":30.6},{"p":"f","avt":0.018,"jph":30.8},{"p":"f","avt":0.03,"jph":30.5},{"p":"f","avt":0.04,"jph":30.2},{"p":"f","avt":0.05,"jph":30.0},{"p":"f","avt":0.06,"jph":29.9},{"p":"f","avt":0.07,"jph":29.7},{"p":"f","avt":0.08,"jph":29.4},{"p":"f","avt":0.09,"jph":29.6},{"p":"f","avt":0.1,"jph":29.2},{"p":"f","avt":0.12,"jph":29.0},{"p":"f","avt":0.13,"jph":28.5},{"p":"f","avt":0.02,"jph":29.8},{"p":"f","avt":0.035,"jph":29.5},{"p":"f","avt":0.06,"jph":29.1},{"p":"f","avt":0.11,"jph":28.7},{"p":"f","avt":0.015,"jph":28.6},{"p":"f","avt":0.03,"jph":28.0},{"p":"f","avt":0.018,"jph":26.6},{"p":"f","avt":0.047,"jph":26.0},{"p":"f","avt":0.083,"jph":25.4},{"p":"f","avt":0.137,"jph":26.9},{"p":"f","avt":0.16,"jph":28.0},{"p":"f","avt":0.178,"jph":28.0},{"p":"f","avt":0.19,"jph":27.2},{"p":"f","avt":0.208,"jph":26.9},{"p":"f","avt":0.226,"jph":26.6},{"p":"f","avt":0.238,"jph":26.0},{"p":"f","avt":0.155,"jph":26.3},{"p":"f","avt":0.137,"jph":25.1},{"p":"f","avt":0.208,"jph":24.9},{"p":"f","avt":0.226,"jph":25.5},{"p":"f","avt":0.256,"jph":25.4},{"p":"f","avt":0.274,"jph":25.1},{"p":"f","avt":0.286,"jph":24.9},{"p":"f","avt":0.053,"jph":23.4},{"p":"f","avt":0.125,"jph":24.3},{"p":"f","avt":0.172,"jph":23.4},{"p":"f","avt":0.22,"jph":23.4},{"p":"f","avt":0.262,"jph":23.7},{"p":"f","avt":0.298,"jph":24.0},{"p":"f","avt":0.327,"jph":24.0},{"p":"f","avt":0.339,"jph":23.7},{"p":"f","avt":0.309,"jph":22.8},{"p":"f","avt":0.018,"jph":23.1},{"p":"f","avt":0.113,"jph":21.7},{"p":"f","avt":0.208,"jph":21.7},{"p":"f","avt":0.256,"jph":21.7},{"p":"f","avt":0.274,"jph":21.4},{"p":"f","avt":0.309,"jph":21.7},{"p":"f","avt":0.351,"jph":21.7},{"p":"f","avt":0.363,"jph":22.3},{"p":"f","avt":0.381,"jph":22.3},{"p":"f","avt":0.161,"jph":20.5},{"p":"f","avt":0.202,"jph":19.7},{"p":"f","avt":0.238,"jph":20.0},{"p":"f","avt":0.286,"jph":20.0},{"p":"f","avt":0.339,"jph":20.2},{"p":"f","avt":0.375,"jph":20.0},{"p":"f","avt":0.399,"jph":20.5},{"p":"f","avt":0.411,"jph":20.8},{"p":"f","avt":0.417,"jph":21.1},{"p":"f","avt":0.434,"jph":19.4},{"p":"f","avt":0.452,"jph":20.0},{"p":"f","avt":0.244,"jph":18.5},{"p":"f","avt":0.274,"jph":18.2},{"p":"f","avt":0.291,"jph":17.6},{"p":"f","avt":0.327,"jph":18.2},{"p":"f","avt":0.363,"jph":18.5},{"p":"f","avt":0.381,"jph":18.2},{"p":"f","avt":0.399,"jph":18.5},{"p":"f","avt":0.333,"jph":16.8},
{"p":"f","avt":0.006,"jph":25.4},{"p":"f","avt":0.006,"jph":24.3},{"p":"f","avt":0.01,"jph":22.5},{"p":"f","avt":0.012,"jph":21.1},{"p":"f","avt":0.024,"jph":20.5},{"p":"f","avt":0.036,"jph":20.2},{"p":"f","avt":0.042,"jph":20.2},{"p":"f","avt":0.03,"jph":19.1},{"p":"f","avt":0.059,"jph":19.1},{"p":"f","avt":0.071,"jph":18.2},{"p":"f","avt":0.095,"jph":18.5},{"p":"f","avt":0.113,"jph":18.6},{"p":"f","avt":0.077,"jph":17.6},{"p":"f","avt":0.095,"jph":16.8},{"p":"f","avt":0.053,"jph":16.8},{"p":"f","avt":0.065,"jph":15.9},{"p":"f","avt":0.089,"jph":15.3},{"p":"f","avt":0.107,"jph":14.8},{"p":"f","avt":0.125,"jph":15.0},{"p":"f","avt":0.137,"jph":13.9},{"p":"f","avt":0.149,"jph":13.3},{"p":"f","avt":0.161,"jph":12.7},{"p":"f","avt":0.172,"jph":12.2},{"p":"f","avt":0.184,"jph":11.6},{"p":"f","avt":0.19,"jph":11.1},{"p":"f","avt":0.131,"jph":17.6},{"p":"f","avt":0.149,"jph":17.0},{"p":"f","avt":0.167,"jph":16.8},{"p":"f","avt":0.184,"jph":15.9},{"p":"f","avt":0.202,"jph":15.9},{"p":"f","avt":0.214,"jph":15.0},{"p":"f","avt":0.238,"jph":15.0},{"p":"f","avt":0.268,"jph":15.0},{"p":"f","avt":0.238,"jph":14.2},{"p":"f","avt":0.268,"jph":13.6},{"p":"f","avt":0.291,"jph":13.0},{"p":"f","avt":0.321,"jph":13.6},{"p":"f","avt":0.309,"jph":12.5},{"p":"f","avt":0.327,"jph":11.9},{"p":"f","avt":0.339,"jph":11.3},{"p":"f","avt":0.351,"jph":10.7},{"p":"f","avt":0.369,"jph":10.4},{"p":"f","avt":0.381,"jph":9.6},{"p":"f","avt":0.393,"jph":9.0},{"p":"f","avt":0.369,"jph":12.5},{"p":"f","avt":0.405,"jph":11.6},{"p":"f","avt":0.44,"jph":11.0},{"p":"f","avt":0.44,"jph":10.5},{"p":"f","avt":0.464,"jph":10.1},{"p":"f","avt":0.494,"jph":9.6},{"p":"f","avt":0.494,"jph":9.3},{"p":"f","avt":0.512,"jph":8.7},{"p":"f","avt":0.53,"jph":8.7},{"p":"f","avt":0.542,"jph":8.1},{"p":"f","avt":0.559,"jph":7.8},{"p":"f","avt":0.571,"jph":7.3},{"p":"f","avt":0.583,"jph":7.0},{"p":"f","avt":0.589,"jph":6.7},{"p":"f","avt":0.607,"jph":6.4},{"p":"f","avt":0.625,"jph":5.8},{"p":"f","avt":0.637,"jph":5.5},{"p":"f","avt":0.649,"jph":5.0},{"p":"f","avt":0.66,"jph":4.7},{"p":"f","avt":0.672,"jph":4.3},{"p":"f","avt":0.684,"jph":3.9},
{"p":"g","avt":0.044,"jph":23.4},{"p":"g","avt":0.058,"jph":23.1},{"p":"g","avt":0.07,"jph":23.4},{"p":"g","avt":0.076,"jph":22.8},{"p":"g","avt":0.082,"jph":22.3},{"p":"g","avt":0.064,"jph":21.4},{"p":"g","avt":0.094,"jph":23.1},{"p":"g","avt":0.112,"jph":23.4},{"p":"g","avt":0.124,"jph":22.6},{"p":"g","avt":0.142,"jph":22.8},{"p":"g","avt":0.148,"jph":22.0},{"p":"g","avt":0.166,"jph":21.7},{"p":"g","avt":0.178,"jph":22.0},{"p":"g","avt":0.136,"jph":21.7},{"p":"g","avt":0.16,"jph":20.5},{"p":"g","avt":0.16,"jph":19.4},{"p":"g","avt":0.142,"jph":17.9},{"p":"g","avt":0.208,"jph":21.1},{"p":"g","avt":0.202,"jph":20.5},{"p":"g","avt":0.238,"jph":20.2},{"p":"g","avt":0.25,"jph":20.2},{"p":"g","avt":0.244,"jph":19.1},{"p":"g","avt":0.256,"jph":19.1},{"p":"g","avt":0.28,"jph":18.8},{"p":"g","avt":0.304,"jph":18.8},{"p":"g","avt":0.316,"jph":19.1},{"p":"g","avt":0.286,"jph":18.2},{"p":"g","avt":0.268,"jph":17.9},{"p":"g","avt":0.238,"jph":17.1},{"p":"g","avt":0.334,"jph":18.2},{"p":"g","avt":0.304,"jph":17.4},{"p":"g","avt":0.334,"jph":17.1},{"p":"g","avt":0.352,"jph":17.4},{"p":"g","avt":0.376,"jph":17.7},{"p":"g","avt":0.328,"jph":16.2},{"p":"g","avt":0.316,"jph":15.9},{"p":"g","avt":0.346,"jph":15.9},{"p":"g","avt":0.376,"jph":15.6},{"p":"g","avt":0.394,"jph":15.6},{"p":"g","avt":0.4,"jph":16.2},{"p":"g","avt":0.436,"jph":16.2},{"p":"g","avt":0.448,"jph":15.3},{"p":"g","avt":0.46,"jph":15.1},{"p":"g","avt":0.406,"jph":14.8},{"p":"g","avt":0.346,"jph":15.1},{"p":"g","avt":0.466,"jph":14.5},{"p":"g","avt":0.49,"jph":13.9},{"p":"g","avt":0.514,"jph":13.9},{"p":"g","avt":0.52,"jph":13.3},{"p":"g","avt":0.532,"jph":13.0},{"p":"g","avt":0.544,"jph":12.5},{"p":"g","avt":0.556,"jph":11.9},{"p":"g","avt":0.574,"jph":11.6},{"p":"g","avt":0.574,"jph":11.0},{"p":"g","avt":0.586,"jph":10.7},{"p":"g","avt":0.604,"jph":9.3},{"p":"g","avt":0.61,"jph":8.4},{"p":"g","avt":0.622,"jph":7.8},{"p":"g","avt":0.634,"jph":7.3},{"p":"g","avt":0.646,"jph":7.0},{"p":"g","avt":0.652,"jph":6.4},{"p":"g","avt":0.663,"jph":6.1},{"p":"g","avt":0.669,"jph":5.8},{"p":"g","avt":0.675,"jph":5.5},{"p":"g","avt":0.681,"jph":5.0},{"p":"g","avt":0.693,"jph":4.4},{"p":"g","avt":0.705,"jph":4.1},{"p":"g","avt":0.717,"jph":3.8},{"p":"g","avt":0.723,"jph":3.2},{"p":"g","avt":0.735,"jph":2.7},{"p":"g","avt":0.705,"jph":3.2},{"p":"g","avt":0.7,"jph":2.9},{"p":"g","avt":0.657,"jph":4.4},{"p":"g","avt":0.64,"jph":5.0},{"p":"g","avt":0.616,"jph":5.5},{"p":"g","avt":0.61,"jph":4.1},{"p":"g","avt":0.586,"jph":4.1},{"p":"g","avt":0.568,"jph":4.7},{"p":"g","avt":0.55,"jph":4.1},{"p":"g","avt":0.532,"jph":4.1},{"p":"g","avt":0.514,"jph":4.1},{"p":"g","avt":0.502,"jph":4.7},{"p":"g","avt":0.484,"jph":4.7},{"p":"g","avt":0.466,"jph":5.0},{"p":"g","avt":0.448,"jph":5.8},{"p":"g","avt":0.472,"jph":5.8},{"p":"g","avt":0.442,"jph":6.7},{"p":"g","avt":0.412,"jph":6.4},{"p":"g","avt":0.388,"jph":7.3},{"p":"g","avt":0.37,"jph":7.3},{"p":"g","avt":0.346,"jph":7.8},{"p":"g","avt":0.334,"jph":8.7},{"p":"g","avt":0.322,"jph":9.0},{"p":"g","avt":0.328,"jph":10.2},{"p":"g","avt":0.328,"jph":10.7},{"p":"g","avt":0.274,"jph":9.0},{"p":"g","avt":0.274,"jph":10.2},{"p":"g","avt":0.28,"jph":12.5},{"p":"g","avt":0.268,"jph":14.8},{"p":"g","avt":0.22,"jph":11.0},{"p":"g","avt":0.214,"jph":9.9},{"p":"g","avt":0.19,"jph":10.7},{"p":"g","avt":0.172,"jph":11.3},{"p":"g","avt":0.166,"jph":12.2},{"p":"g","avt":0.166,"jph":12.7},{"p":"g","avt":0.148,"jph":12.2},{"p":"g","avt":0.142,"jph":14.2},{"p":"g","avt":0.106,"jph":13.0},{"p":"g","avt":0.088,"jph":13.6},{"p":"g","avt":0.076,"jph":14.2},{"p":"g","avt":0.046,"jph":17.7},{"p":"g","avt":0.044,"jph":16.0},{"p":"g","avt":0.064,"jph":18.8},{"p":"g","avt":0.112,"jph":16.8},{"p":"g","avt":0.196,"jph":15.6},{"p":"g","avt":0.364,"jph":12.7},{"p":"g","avt":0.37,"jph":11.3},{"p":"g","avt":0.4,"jph":10.4},{"p":"g","avt":0.418,"jph":9.6},{"p":"g","avt":0.436,"jph":9.9},{"p":"g","avt":0.43,"jph":12.2},{"p":"g","avt":0.436,"jph":13.0},{"p":"g","avt":0.454,"jph":11.3},{"p":"g","avt":0.466,"jph":11.0},{"p":"g","avt":0.484,"jph":9.9},{"p":"g","avt":0.49,"jph":9.0},{"p":"g","avt":0.478,"jph":9.3},{"p":"g","avt":0.502,"jph":9.6},{"p":"g","avt":0.514,"jph":8.7},{"p":"g","avt":0.526,"jph":8.1},{"p":"g","avt":0.538,"jph":9.9},{"p":"g","avt":0.544,"jph":9.3},{"p":"g","avt":0.55,"jph":10.7},{"p":"g","avt":0.562,"jph":8.4},{"p":"g","avt":0.574,"jph":9.0},{"p":"g","avt":0.586,"jph":7.8},{"p":"g","avt":0.592,"jph":6.7},{"p":"g","avt":0.61,"jph":7.3},{"p":"g","avt":0.634,"jph":5.8},{"p":"g","avt":0.514,"jph":11.6},{"p":"g","avt":0.496,"jph":11.3},{"p":"g","avt":0.508,"jph":12.5},{"p":"g","avt":0.49,"jph":13.0},{"p":"g","avt":0.532,"jph":11.0},{"p":"g","avt":0.562,"jph":10.7},{"p":"g","avt":0.598,"jph":9.0},{"p":"g","avt":0.616,"jph":8.4},{"p":"g","avt":0.64,"jph":7.6},{"p":"g","avt":0.657,"jph":6.7},{"p":"g","avt":0.663,"jph":7.3},{"p":"g","avt":0.687,"jph":4.7},{"p":"g","avt":0.693,"jph":5.3}
]
},
"vconcat":[
{"hconcat":[
{"width":199,"height":148,"layer":[
{"data":{"name":"schem"},"transform":[{"filter":"datum.p==='a'"}],"mark":{"type":"line","strokeWidth":3.2,"strokeJoin":"miter","strokeCap":"butt"},"encoding":{"x":{"field":"x","type":"quantitative","scale":{"domain":[0,1],"nice":false,"zero":false},"axis":null},"y":{"field":"y","type":"quantitative","scale":{"domain":[0,1.2],"nice":false,"zero":false},"axis":{"values":[0,1],"format":"d","title":"abs","domain":false,"ticks":false,"labelFlush":false,"labelFontSize":21.5,"labelPadding":10,"labelColor":"#222222","titleFontSize":22,"titleFontWeight":"normal","titleColor":"#222222","titleX":-13,"titleY":85,"titleAngle":-90,"titleBaseline":"alphabetic","titleAlign":"center"}},"color":{"field":"c","type":"nominal","scale":{"domain":["axis","gray","colour","thin1","thin2","thin3","nw1","nw2","green","thinT","nwT"],"range":["#333333","#e8262a","#f47b20","#ebdb24","#efe47c","#e4da2e","#173e51","#1b7a9a","#2bb04a","#f7a823","#1f5e78"]},"legend":null},"strokeDash":{"field":"k","type":"nominal","scale":{"domain":["solid","dot"],"range":[[1,0],[4,2.5]]},"legend":null},"detail":{"field":"s","type":"nominal"},"order":{"field":"o","type":"quantitative"}}},
{"data":{"name":"heads"},"transform":[{"filter":"datum.p==='a' && datum.k==='chev'"}],"mark":{"type":"point","shape":"M-0.6,1L0,0L0.6,1","size":576,"filled":false,"stroke":"#333333","strokeWidth":3.2,"opacity":1},"encoding":{"x":{"field":"x","type":"quantitative","scale":{"domain":[0,1],"nice":false,"zero":false},"axis":null},"y":{"field":"y","type":"quantitative","scale":{"domain":[0,1.2],"nice":false,"zero":false}},"angle":{"field":"ang","type":"quantitative","scale":null}}},
{"data":{"name":"heads"},"transform":[{"filter":"datum.p==='a' && datum.k==='tri'"}],"mark":{"type":"point","shape":"M0,0L0.85,1.7L-0.85,1.7Z","size":100,"filled":true,"color":"#2bb04a","opacity":1,"strokeWidth":0},"encoding":{"x":{"field":"x","type":"quantitative","scale":{"domain":[0,1],"nice":false,"zero":false},"axis":null},"y":{"field":"y","type":"quantitative","scale":{"domain":[0,1.2],"nice":false,"zero":false}},"angle":{"field":"ang","type":"quantitative","scale":null}}},
{"data":{"name":"tlab"},"transform":[{"filter":"datum.p==='a' && datum.k==='lam'"}],"mark":{"type":"text","fontSize":23,"align":"center","baseline":"alphabetic","color":"#222222"},"encoding":{"x":{"field":"x","type":"quantitative","scale":{"domain":[0,1],"nice":false,"zero":false},"axis":null},"y":{"field":"y","type":"quantitative","scale":{"domain":[0,1.2],"nice":false,"zero":false}},"text":{"field":"t","type":"nominal"}}},
{"data":{"name":"tlab"},"transform":[{"filter":"datum.p==='a' && datum.k==='sub'"}],"mark":{"type":"text","fontSize":13.5,"align":"left","baseline":"alphabetic","color":"#222222"},"encoding":{"x":{"field":"x","type":"quantitative","scale":{"domain":[0,1],"nice":false,"zero":false},"axis":null},"y":{"field":"y","type":"quantitative","scale":{"domain":[0,1.2],"nice":false,"zero":false}},"text":{"field":"t","type":"nominal"}}},
{"data":{"name":"tlab"},"transform":[{"filter":"datum.p==='a' && datum.k==='title'"}],"mark":{"type":"text","fontSize":22.5,"align":"left","baseline":"alphabetic"},"encoding":{"x":{"field":"x","type":"quantitative","scale":{"domain":[0,1],"nice":false,"zero":false},"axis":null},"y":{"field":"y","type":"quantitative","scale":{"domain":[0,1.2],"nice":false,"zero":false}},"text":{"field":"t","type":"nominal"},"color":{"field":"c","type":"nominal","scale":{"domain":["axis","gray","colour","thin1","thin2","thin3","nw1","nw2","green","thinT","nwT"],"range":["#333333","#e8262a","#f47b20","#ebdb24","#efe47c","#e4da2e","#173e51","#1b7a9a","#2bb04a","#f7a823","#1f5e78"]},"legend":null}}},
{"data":{"name":"tlab"},"transform":[{"filter":"datum.p==='a' && datum.k==='letter'"}],"mark":{"type":"text","fontSize":21,"align":"center","baseline":"alphabetic","color":"#111111"},"encoding":{"x":{"field":"x","type":"quantitative","scale":{"domain":[0,1],"nice":false,"zero":false},"axis":null},"y":{"field":"y","type":"quantitative","scale":{"domain":[0,1.2],"nice":false,"zero":false}},"text":{"field":"t","type":"nominal"}}}
]},
{"width":199,"height":148,"layer":[
{"data":{"name":"schem"},"transform":[{"filter":"datum.p==='b'"}],"mark":{"type":"line","strokeWidth":3.2,"strokeJoin":"miter","strokeCap":"butt"},"encoding":{"x":{"field":"x","type":"quantitative","scale":{"domain":[0,1],"nice":false,"zero":false},"axis":null},"y":{"field":"y","type":"quantitative","scale":{"domain":[0,1.2],"nice":false,"zero":false},"axis":{"values":[0,1],"format":"d","title":"abs","domain":false,"ticks":false,"labelFlush":false,"labelFontSize":21.5,"labelPadding":10,"labelColor":"#222222","titleFontSize":22,"titleFontWeight":"normal","titleColor":"#222222","titleX":-13,"titleY":85,"titleAngle":-90,"titleBaseline":"alphabetic","titleAlign":"center"}},"color":{"field":"c","type":"nominal","scale":{"domain":["axis","gray","colour","thin1","thin2","thin3","nw1","nw2","green","thinT","nwT"],"range":["#333333","#e8262a","#f47b20","#ebdb24","#efe47c","#e4da2e","#173e51","#1b7a9a","#2bb04a","#f7a823","#1f5e78"]},"legend":null},"strokeDash":{"field":"k","type":"nominal","scale":{"domain":["solid","dot"],"range":[[1,0],[4,2.5]]},"legend":null},"detail":{"field":"s","type":"nominal"},"order":{"field":"o","type":"quantitative"}}},
{"data":{"name":"heads"},"transform":[{"filter":"datum.p==='b' && datum.k==='chev'"}],"mark":{"type":"point","shape":"M-0.6,1L0,0L0.6,1","size":576,"filled":false,"stroke":"#333333","strokeWidth":3.2,"opacity":1},"encoding":{"x":{"field":"x","type":"quantitative","scale":{"domain":[0,1],"nice":false,"zero":false},"axis":null},"y":{"field":"y","type":"quantitative","scale":{"domain":[0,1.2],"nice":false,"zero":false}},"angle":{"field":"ang","type":"quantitative","scale":null}}},
{"data":{"name":"heads"},"transform":[{"filter":"datum.p==='b' && datum.k==='tri'"}],"mark":{"type":"point","shape":"M0,0L0.85,1.7L-0.85,1.7Z","size":100,"filled":true,"color":"#2bb04a","opacity":1,"strokeWidth":0},"encoding":{"x":{"field":"x","type":"quantitative","scale":{"domain":[0,1],"nice":false,"zero":false},"axis":null},"y":{"field":"y","type":"quantitative","scale":{"domain":[0,1.2],"nice":false,"zero":false}},"angle":{"field":"ang","type":"quantitative","scale":null}}},
{"data":{"name":"tlab"},"transform":[{"filter":"datum.p==='b' && datum.k==='lam'"}],"mark":{"type":"text","fontSize":23,"align":"center","baseline":"alphabetic","color":"#222222"},"encoding":{"x":{"field":"x","type":"quantitative","scale":{"domain":[0,1],"nice":false,"zero":false},"axis":null},"y":{"field":"y","type":"quantitative","scale":{"domain":[0,1.2],"nice":false,"zero":false}},"text":{"field":"t","type":"nominal"}}},
{"data":{"name":"tlab"},"transform":[{"filter":"datum.p==='b' && datum.k==='sub'"}],"mark":{"type":"text","fontSize":13.5,"align":"left","baseline":"alphabetic","color":"#222222"},"encoding":{"x":{"field":"x","type":"quantitative","scale":{"domain":[0,1],"nice":false,"zero":false},"axis":null},"y":{"field":"y","type":"quantitative","scale":{"domain":[0,1.2],"nice":false,"zero":false}},"text":{"field":"t","type":"nominal"}}},
{"data":{"name":"tlab"},"transform":[{"filter":"datum.p==='b' && datum.k==='title'"}],"mark":{"type":"text","fontSize":22.5,"align":"left","baseline":"alphabetic"},"encoding":{"x":{"field":"x","type":"quantitative","scale":{"domain":[0,1],"nice":false,"zero":false},"axis":null},"y":{"field":"y","type":"quantitative","scale":{"domain":[0,1.2],"nice":false,"zero":false}},"text":{"field":"t","type":"nominal"},"color":{"field":"c","type":"nominal","scale":{"domain":["axis","gray","colour","thin1","thin2","thin3","nw1","nw2","green","thinT","nwT"],"range":["#333333","#e8262a","#f47b20","#ebdb24","#efe47c","#e4da2e","#173e51","#1b7a9a","#2bb04a","#f7a823","#1f5e78"]},"legend":null}}},
{"data":{"name":"tlab"},"transform":[{"filter":"datum.p==='b' && datum.k==='letter'"}],"mark":{"type":"text","fontSize":21,"align":"center","baseline":"alphabetic","color":"#111111"},"encoding":{"x":{"field":"x","type":"quantitative","scale":{"domain":[0,1],"nice":false,"zero":false},"axis":null},"y":{"field":"y","type":"quantitative","scale":{"domain":[0,1.2],"nice":false,"zero":false}},"text":{"field":"t","type":"nominal"}}},
{"data":{"name":"tlab"},"transform":[{"filter":"datum.p==='b' && datum.k==='green'"}],"mark":{"type":"text","fontSize":20,"align":"center","baseline":"alphabetic","color":"#2bb04a"},"encoding":{"x":{"field":"x","type":"quantitative","scale":{"domain":[0,1],"nice":false,"zero":false},"axis":null},"y":{"field":"y","type":"quantitative","scale":{"domain":[0,1.2],"nice":false,"zero":false}},"text":{"field":"t","type":"nominal"},"angle":{"field":"ang","type":"quantitative","scale":null}}}
]},
{"width":199,"height":148,"layer":[
{"data":{"name":"schem"},"transform":[{"filter":"datum.p==='c'"}],"mark":{"type":"line","strokeWidth":3.2,"strokeJoin":"round","strokeCap":"butt"},"encoding":{"x":{"field":"x","type":"quantitative","scale":{"domain":[0,1],"nice":false,"zero":false},"axis":null},"y":{"field":"y","type":"quantitative","scale":{"domain":[0,1.2],"nice":false,"zero":false},"axis":{"values":[0,1],"format":"d","title":"abs","domain":false,"ticks":false,"labelFlush":false,"labelFontSize":21.5,"labelPadding":10,"labelColor":"#222222","titleFontSize":22,"titleFontWeight":"normal","titleColor":"#222222","titleX":-13,"titleY":85,"titleAngle":-90,"titleBaseline":"alphabetic","titleAlign":"center"}},"color":{"field":"c","type":"nominal","scale":{"domain":["axis","gray","colour","thin1","thin2","thin3","nw1","nw2","green","thinT","nwT"],"range":["#333333","#e8262a","#f47b20","#ebdb24","#efe47c","#e4da2e","#173e51","#1b7a9a","#2bb04a","#f7a823","#1f5e78"]},"legend":null},"strokeDash":{"field":"k","type":"nominal","scale":{"domain":["solid","dot"],"range":[[1,0],[4,2.5]]},"legend":null},"detail":{"field":"s","type":"nominal"},"order":{"field":"o","type":"quantitative"}}},
{"data":{"name":"heads"},"transform":[{"filter":"datum.p==='c' && datum.k==='chev'"}],"mark":{"type":"point","shape":"M-0.6,1L0,0L0.6,1","size":576,"filled":false,"stroke":"#333333","strokeWidth":3.2,"opacity":1},"encoding":{"x":{"field":"x","type":"quantitative","scale":{"domain":[0,1],"nice":false,"zero":false},"axis":null},"y":{"field":"y","type":"quantitative","scale":{"domain":[0,1.2],"nice":false,"zero":false}},"angle":{"field":"ang","type":"quantitative","scale":null}}},
{"data":{"name":"heads"},"transform":[{"filter":"datum.p==='c' && datum.k==='tri'"}],"mark":{"type":"point","shape":"M0,0L0.85,1.7L-0.85,1.7Z","size":100,"filled":true,"color":"#2bb04a","opacity":1,"strokeWidth":0},"encoding":{"x":{"field":"x","type":"quantitative","scale":{"domain":[0,1],"nice":false,"zero":false},"axis":null},"y":{"field":"y","type":"quantitative","scale":{"domain":[0,1.2],"nice":false,"zero":false}},"angle":{"field":"ang","type":"quantitative","scale":null}}},
{"data":{"name":"tlab"},"transform":[{"filter":"datum.p==='c' && datum.k==='lam'"}],"mark":{"type":"text","fontSize":23,"align":"center","baseline":"alphabetic","color":"#222222"},"encoding":{"x":{"field":"x","type":"quantitative","scale":{"domain":[0,1],"nice":false,"zero":false},"axis":null},"y":{"field":"y","type":"quantitative","scale":{"domain":[0,1.2],"nice":false,"zero":false}},"text":{"field":"t","type":"nominal"}}},
{"data":{"name":"tlab"},"transform":[{"filter":"datum.p==='c' && datum.k==='sub'"}],"mark":{"type":"text","fontSize":13.5,"align":"left","baseline":"alphabetic","color":"#222222"},"encoding":{"x":{"field":"x","type":"quantitative","scale":{"domain":[0,1],"nice":false,"zero":false},"axis":null},"y":{"field":"y","type":"quantitative","scale":{"domain":[0,1.2],"nice":false,"zero":false}},"text":{"field":"t","type":"nominal"}}},
{"data":{"name":"tlab"},"transform":[{"filter":"datum.p==='c' && datum.k==='title'"}],"mark":{"type":"text","fontSize":22.5,"align":"left","baseline":"alphabetic"},"encoding":{"x":{"field":"x","type":"quantitative","scale":{"domain":[0,1],"nice":false,"zero":false},"axis":null},"y":{"field":"y","type":"quantitative","scale":{"domain":[0,1.2],"nice":false,"zero":false}},"text":{"field":"t","type":"nominal"},"color":{"field":"c","type":"nominal","scale":{"domain":["axis","gray","colour","thin1","thin2","thin3","nw1","nw2","green","thinT","nwT"],"range":["#333333","#e8262a","#f47b20","#ebdb24","#efe47c","#e4da2e","#173e51","#1b7a9a","#2bb04a","#f7a823","#1f5e78"]},"legend":null}}},
{"data":{"name":"tlab"},"transform":[{"filter":"datum.p==='c' && datum.k==='letter'"}],"mark":{"type":"text","fontSize":21,"align":"center","baseline":"alphabetic","color":"#111111"},"encoding":{"x":{"field":"x","type":"quantitative","scale":{"domain":[0,1],"nice":false,"zero":false},"axis":null},"y":{"field":"y","type":"quantitative","scale":{"domain":[0,1.2],"nice":false,"zero":false}},"text":{"field":"t","type":"nominal"}}},
{"data":{"name":"tlab"},"transform":[{"filter":"datum.p==='c' && datum.k==='green'"}],"mark":{"type":"text","fontSize":20,"align":"center","baseline":"middle","color":"#2bb04a"},"encoding":{"x":{"field":"x","type":"quantitative","scale":{"domain":[0,1],"nice":false,"zero":false},"axis":null},"y":{"field":"y","type":"quantitative","scale":{"domain":[0,1.2],"nice":false,"zero":false}},"text":{"field":"t","type":"nominal"},"angle":{"field":"ang","type":"quantitative","scale":null}}}
]},
{"width":199,"height":148,"layer":[
{"data":{"name":"schem"},"transform":[{"filter":"datum.p==='d'"}],"mark":{"type":"line","strokeWidth":3.4,"strokeJoin":"round","strokeCap":"butt"},"encoding":{"x":{"field":"x","type":"quantitative","scale":{"domain":[0,1],"nice":false,"zero":false},"axis":null},"y":{"field":"y","type":"quantitative","scale":{"domain":[0,1.2],"nice":false,"zero":false},"axis":{"values":[0,1],"format":"d","title":"abs","domain":false,"ticks":false,"labelFlush":false,"labelFontSize":21.5,"labelPadding":10,"labelColor":"#222222","titleFontSize":22,"titleFontWeight":"normal","titleColor":"#222222","titleX":-13,"titleY":85,"titleAngle":-90,"titleBaseline":"alphabetic","titleAlign":"center"}},"color":{"field":"c","type":"nominal","scale":{"domain":["axis","gray","colour","thin1","thin2","thin3","nw1","nw2","green","thinT","nwT"],"range":["#333333","#e8262a","#f47b20","#ebdb24","#efe47c","#e4da2e","#173e51","#1b7a9a","#2bb04a","#f7a823","#1f5e78"]},"legend":null},"strokeDash":{"field":"k","type":"nominal","scale":{"domain":["solid","dot"],"range":[[1,0],[4,2.5]]},"legend":null},"detail":{"field":"s","type":"nominal"},"order":{"field":"o","type":"quantitative"}}},
{"data":{"name":"heads"},"transform":[{"filter":"datum.p==='d' && datum.k==='chev'"}],"mark":{"type":"point","shape":"M-0.6,1L0,0L0.6,1","size":576,"filled":false,"stroke":"#333333","strokeWidth":3.2,"opacity":1},"encoding":{"x":{"field":"x","type":"quantitative","scale":{"domain":[0,1],"nice":false,"zero":false},"axis":null},"y":{"field":"y","type":"quantitative","scale":{"domain":[0,1.2],"nice":false,"zero":false}},"angle":{"field":"ang","type":"quantitative","scale":null}}},
{"data":{"name":"heads"},"transform":[{"filter":"datum.p==='d' && datum.k==='tri'"}],"mark":{"type":"point","shape":"M0,0L0.85,1.7L-0.85,1.7Z","size":100,"filled":true,"color":"#2bb04a","opacity":1,"strokeWidth":0},"encoding":{"x":{"field":"x","type":"quantitative","scale":{"domain":[0,1],"nice":false,"zero":false},"axis":null},"y":{"field":"y","type":"quantitative","scale":{"domain":[0,1.2],"nice":false,"zero":false}},"angle":{"field":"ang","type":"quantitative","scale":null}}},
{"data":{"name":"tlab"},"transform":[{"filter":"datum.p==='d' && datum.k==='lam'"}],"mark":{"type":"text","fontSize":23,"align":"center","baseline":"alphabetic","color":"#222222"},"encoding":{"x":{"field":"x","type":"quantitative","scale":{"domain":[0,1],"nice":false,"zero":false},"axis":null},"y":{"field":"y","type":"quantitative","scale":{"domain":[0,1.2],"nice":false,"zero":false}},"text":{"field":"t","type":"nominal"}}},
{"data":{"name":"tlab"},"transform":[{"filter":"datum.p==='d' && datum.k==='sub'"}],"mark":{"type":"text","fontSize":13.5,"align":"left","baseline":"alphabetic","color":"#222222"},"encoding":{"x":{"field":"x","type":"quantitative","scale":{"domain":[0,1],"nice":false,"zero":false},"axis":null},"y":{"field":"y","type":"quantitative","scale":{"domain":[0,1.2],"nice":false,"zero":false}},"text":{"field":"t","type":"nominal"}}},
{"data":{"name":"tlab"},"transform":[{"filter":"datum.p==='d' && datum.k==='title'"}],"mark":{"type":"text","fontSize":22.5,"align":"left","baseline":"alphabetic"},"encoding":{"x":{"field":"x","type":"quantitative","scale":{"domain":[0,1],"nice":false,"zero":false},"axis":null},"y":{"field":"y","type":"quantitative","scale":{"domain":[0,1.2],"nice":false,"zero":false}},"text":{"field":"t","type":"nominal"},"color":{"field":"c","type":"nominal","scale":{"domain":["axis","gray","colour","thin1","thin2","thin3","nw1","nw2","green","thinT","nwT"],"range":["#333333","#e8262a","#f47b20","#ebdb24","#efe47c","#e4da2e","#173e51","#1b7a9a","#2bb04a","#f7a823","#1f5e78"]},"legend":null}}},
{"data":{"name":"tlab"},"transform":[{"filter":"datum.p==='d' && datum.k==='letter'"}],"mark":{"type":"text","fontSize":21,"align":"center","baseline":"alphabetic","color":"#111111"},"encoding":{"x":{"field":"x","type":"quantitative","scale":{"domain":[0,1],"nice":false,"zero":false},"axis":null},"y":{"field":"y","type":"quantitative","scale":{"domain":[0,1.2],"nice":false,"zero":false}},"text":{"field":"t","type":"nominal"}}},
{"data":{"name":"tlab"},"transform":[{"filter":"datum.p==='d' && datum.k==='green'"}],"mark":{"type":"text","fontSize":21,"align":"center","baseline":"alphabetic","color":"#2bb04a"},"encoding":{"x":{"field":"x","type":"quantitative","scale":{"domain":[0,1],"nice":false,"zero":false},"axis":null},"y":{"field":"y","type":"quantitative","scale":{"domain":[0,1.2],"nice":false,"zero":false}},"text":{"field":"t","type":"nominal"},"angle":{"field":"ang","type":"quantitative","scale":null}}}
]}
],"spacing":47,"bounds":"flush","resolve":{"scale":{"x":"independent","y":"independent","color":"independent","strokeDash":"independent"}}},
{"hconcat":[
{"width":280,"height":280,"view":{"stroke":"#000000","strokeWidth":3.5},"layer":[
{"data":{"name":"dots"},"transform":[{"filter":"datum.p==='e'"}],"mark":{"type":"circle","size":24,"color":"#1e6b8c","opacity":1},"encoding":{"x":{"field":"avt","type":"quantitative","scale":{"domain":[0,1],"nice":false,"zero":false},"axis":{"values":[0,0.2,0.4,0.6,0.8,1],"format":".1f","title":"AVT","domain":false,"ticks":true,"tickSize":-5,"tickWidth":2,"tickColor":"#000000","labelFontSize":21.5,"labelPadding":13,"labelColor":"#111111","labelFlush":false,"labelOverlap":false,"titleFontSize":22,"titleFontWeight":"normal","titleColor":"#111111","titlePadding":9}},"y":{"field":"jph","type":"quantitative","scale":{"domain":[1.5,50],"nice":false,"zero":false},"axis":{"values":[10,20,30,40,50],"title":null,"domain":false,"ticks":true,"tickSize":-5,"tickWidth":2,"tickColor":"#000000","labelFontSize":21.5,"labelPadding":9,"labelColor":"#111111","labelFlush":false,"labelOverlap":false}}}},
{"data":{"name":"jl"},"transform":[{"filter":"datum.p==='e'"}],"mark":{"type":"line","strokeWidth":3.5,"strokeJoin":"round"},"encoding":{"x":{"field":"avt","type":"quantitative","scale":{"domain":[0,1],"nice":false,"zero":false}},"y":{"field":"jph","type":"quantitative","scale":{"domain":[1.5,50],"nice":false,"zero":false}},"color":{"field":"s","type":"nominal","scale":{"domain":["gs","cs","td","nw"],"range":["#cc2229","#f26522","#f8a51b","#1e6b8c"]},"legend":null},"order":{"field":"o","type":"quantitative"}}},
{"data":{"name":"bt"},"transform":[{"filter":"datum.p==='e' && datum.k==='tl'"}],"mark":{"type":"text","fontSize":22,"align":"right","baseline":"alphabetic","color":"#222222"},"encoding":{"x":{"field":"avt","type":"quantitative","scale":{"domain":[0,1],"nice":false,"zero":false}},"y":{"field":"jph","type":"quantitative","scale":{"domain":[1.5,50],"nice":false,"zero":false}},"text":{"field":"t","type":"nominal"}}},
{"data":{"name":"bt"},"transform":[{"filter":"datum.p==='e' && datum.k==='ts'"}],"mark":{"type":"text","fontSize":13.5,"align":"center","baseline":"alphabetic","color":"#222222"},"encoding":{"x":{"field":"avt","type":"quantitative","scale":{"domain":[0,1],"nice":false,"zero":false}},"y":{"field":"jph","type":"quantitative","scale":{"domain":[1.5,50],"nice":false,"zero":false}},"text":{"field":"t","type":"nominal"}}},
{"data":{"name":"bt"},"transform":[{"filter":"datum.p==='e' && datum.k==='tr'"}],"mark":{"type":"text","fontSize":22,"align":"left","baseline":"alphabetic","color":"#222222"},"encoding":{"x":{"field":"avt","type":"quantitative","scale":{"domain":[0,1],"nice":false,"zero":false}},"y":{"field":"jph","type":"quantitative","scale":{"domain":[1.5,50],"nice":false,"zero":false}},"text":{"field":"t","type":"nominal"}}},
{"data":{"name":"bt"},"transform":[{"filter":"datum.p==='e' && datum.k==='let'"}],"mark":{"type":"text","fontSize":21,"align":"center","baseline":"alphabetic","color":"#111111"},"encoding":{"x":{"field":"avt","type":"quantitative","scale":{"domain":[0,1],"nice":false,"zero":false}},"y":{"field":"jph","type":"quantitative","scale":{"domain":[1.5,50],"nice":false,"zero":false}},"text":{"field":"t","type":"nominal"}}},
{"data":{"name":"bt"},"transform":[{"filter":"datum.p==='e' && datum.k==='yb'"}],"mark":{"type":"text","fontSize":22,"align":"left","baseline":"alphabetic","angle":270,"color":"#111111"},"encoding":{"x":{"field":"avt","type":"quantitative","scale":{"domain":[0,1],"nice":false,"zero":false}},"y":{"field":"jph","type":"quantitative","scale":{"domain":[1.5,50],"nice":false,"zero":false}},"text":{"field":"t","type":"nominal"}}},
{"data":{"name":"bt"},"transform":[{"filter":"datum.p==='e' && datum.k==='ys'"}],"mark":{"type":"text","fontSize":13.5,"align":"left","baseline":"alphabetic","angle":270,"color":"#111111"},"encoding":{"x":{"field":"avt","type":"quantitative","scale":{"domain":[0,1],"nice":false,"zero":false}},"y":{"field":"jph","type":"quantitative","scale":{"domain":[1.5,50],"nice":false,"zero":false}},"text":{"field":"t","type":"nominal"}}}
]},
{"width":280,"height":280,"view":{"stroke":"#000000","strokeWidth":3.5},"layer":[
{"data":{"name":"dots"},"transform":[{"filter":"datum.p==='f'"}],"mark":{"type":"circle","size":24,"color":"#1e6b8c","opacity":1},"encoding":{"x":{"field":"avt","type":"quantitative","scale":{"domain":[0,1],"nice":false,"zero":false},"axis":{"values":[0,0.2,0.4,0.6,0.8,1],"format":".1f","title":"AVT","domain":false,"ticks":true,"tickSize":-5,"tickWidth":2,"tickColor":"#000000","labelFontSize":21.5,"labelPadding":13,"labelColor":"#111111","labelFlush":false,"labelOverlap":false,"titleFontSize":22,"titleFontWeight":"normal","titleColor":"#111111","titlePadding":9}},"y":{"field":"jph","type":"quantitative","scale":{"domain":[1.5,50],"nice":false,"zero":false},"axis":{"values":[10,20,30,40,50],"title":null,"domain":false,"ticks":true,"tickSize":-5,"tickWidth":2,"tickColor":"#000000","labelFontSize":21.5,"labelPadding":9,"labelColor":"#111111","labelFlush":false,"labelOverlap":false}}}},
{"data":{"name":"jl"},"transform":[{"filter":"datum.p==='f'"}],"mark":{"type":"line","strokeWidth":3.5,"strokeJoin":"round"},"encoding":{"x":{"field":"avt","type":"quantitative","scale":{"domain":[0,1],"nice":false,"zero":false}},"y":{"field":"jph","type":"quantitative","scale":{"domain":[1.5,50],"nice":false,"zero":false}},"color":{"field":"s","type":"nominal","scale":{"domain":["gs","cs","td","nw"],"range":["#cc2229","#f26522","#f8a51b","#1e6b8c"]},"legend":null},"order":{"field":"o","type":"quantitative"}}},
{"data":{"name":"bt"},"transform":[{"filter":"datum.p==='f' && datum.k==='tl'"}],"mark":{"type":"text","fontSize":22,"align":"right","baseline":"alphabetic","color":"#222222"},"encoding":{"x":{"field":"avt","type":"quantitative","scale":{"domain":[0,1],"nice":false,"zero":false}},"y":{"field":"jph","type":"quantitative","scale":{"domain":[1.5,50],"nice":false,"zero":false}},"text":{"field":"t","type":"nominal"}}},
{"data":{"name":"bt"},"transform":[{"filter":"datum.p==='f' && datum.k==='ts'"}],"mark":{"type":"text","fontSize":13.5,"align":"center","baseline":"alphabetic","color":"#222222"},"encoding":{"x":{"field":"avt","type":"quantitative","scale":{"domain":[0,1],"nice":false,"zero":false}},"y":{"field":"jph","type":"quantitative","scale":{"domain":[1.5,50],"nice":false,"zero":false}},"text":{"field":"t","type":"nominal"}}},
{"data":{"name":"bt"},"transform":[{"filter":"datum.p==='f' && datum.k==='tr'"}],"mark":{"type":"text","fontSize":22,"align":"left","baseline":"alphabetic","color":"#222222"},"encoding":{"x":{"field":"avt","type":"quantitative","scale":{"domain":[0,1],"nice":false,"zero":false}},"y":{"field":"jph","type":"quantitative","scale":{"domain":[1.5,50],"nice":false,"zero":false}},"text":{"field":"t","type":"nominal"}}},
{"data":{"name":"bt"},"transform":[{"filter":"datum.p==='f' && datum.k==='let'"}],"mark":{"type":"text","fontSize":21,"align":"center","baseline":"alphabetic","color":"#111111"},"encoding":{"x":{"field":"avt","type":"quantitative","scale":{"domain":[0,1],"nice":false,"zero":false}},"y":{"field":"jph","type":"quantitative","scale":{"domain":[1.5,50],"nice":false,"zero":false}},"text":{"field":"t","type":"nominal"}}}
]},
{"width":280,"height":280,"view":{"stroke":"#000000","strokeWidth":3.5},"layer":[
{"data":{"name":"dots"},"transform":[{"filter":"datum.p==='g'"}],"mark":{"type":"circle","size":24,"color":"#1e6b8c","opacity":1},"encoding":{"x":{"field":"avt","type":"quantitative","scale":{"domain":[0,1],"nice":false,"zero":false},"axis":{"values":[0,0.2,0.4,0.6,0.8,1],"format":".1f","title":"AVT","domain":false,"ticks":true,"tickSize":-5,"tickWidth":2,"tickColor":"#000000","labelFontSize":21.5,"labelPadding":13,"labelColor":"#111111","labelFlush":false,"labelOverlap":false,"titleFontSize":22,"titleFontWeight":"normal","titleColor":"#111111","titlePadding":9}},"y":{"field":"jph","type":"quantitative","scale":{"domain":[1.5,50],"nice":false,"zero":false},"axis":{"values":[10,20,30,40,50],"title":null,"domain":false,"ticks":true,"tickSize":-5,"tickWidth":2,"tickColor":"#000000","labelFontSize":21.5,"labelPadding":9,"labelColor":"#111111","labelFlush":false,"labelOverlap":false}}}},
{"data":{"name":"jl"},"transform":[{"filter":"datum.p==='g'"}],"mark":{"type":"line","strokeWidth":3.5,"strokeJoin":"round"},"encoding":{"x":{"field":"avt","type":"quantitative","scale":{"domain":[0,1],"nice":false,"zero":false}},"y":{"field":"jph","type":"quantitative","scale":{"domain":[1.5,50],"nice":false,"zero":false}},"color":{"field":"s","type":"nominal","scale":{"domain":["gs","cs","td","nw"],"range":["#cc2229","#f26522","#f8a51b","#1e6b8c"]},"legend":null},"order":{"field":"o","type":"quantitative"}}},
{"data":{"name":"lead"},"mark":{"type":"line","strokeWidth":1.2},"encoding":{"x":{"field":"avt","type":"quantitative","scale":{"domain":[0,1],"nice":false,"zero":false}},"y":{"field":"jph","type":"quantitative","scale":{"domain":[1.5,50],"nice":false,"zero":false}},"color":{"field":"s","type":"nominal","scale":{"domain":["gs","cs","td","nw"],"range":["#cc2229","#f26522","#f8a51b","#1e6b8c"]},"legend":null},"order":{"field":"o","type":"quantitative"}}},
{"data":{"name":"bt"},"transform":[{"filter":"datum.p==='g' && datum.k==='ann'"}],"mark":{"type":"text","fontSize":22.5,"align":"left","baseline":"middle"},"encoding":{"x":{"field":"avt","type":"quantitative","scale":{"domain":[0,1],"nice":false,"zero":false}},"y":{"field":"jph","type":"quantitative","scale":{"domain":[1.5,50],"nice":false,"zero":false}},"text":{"field":"t","type":"nominal"},"color":{"field":"c","type":"nominal","scale":{"domain":["gs","cs","td","nw"],"range":["#cc2229","#f26522","#f8a51b","#1e6b8c"]},"legend":null}}},
{"data":{"name":"bt"},"transform":[{"filter":"datum.p==='g' && datum.k==='tl'"}],"mark":{"type":"text","fontSize":22,"align":"right","baseline":"alphabetic","color":"#222222"},"encoding":{"x":{"field":"avt","type":"quantitative","scale":{"domain":[0,1],"nice":false,"zero":false}},"y":{"field":"jph","type":"quantitative","scale":{"domain":[1.5,50],"nice":false,"zero":false}},"text":{"field":"t","type":"nominal"}}},
{"data":{"name":"bt"},"transform":[{"filter":"datum.p==='g' && datum.k==='ts'"}],"mark":{"type":"text","fontSize":13.5,"align":"center","baseline":"alphabetic","color":"#222222"},"encoding":{"x":{"field":"avt","type":"quantitative","scale":{"domain":[0,1],"nice":false,"zero":false}},"y":{"field":"jph","type":"quantitative","scale":{"domain":[1.5,50],"nice":false,"zero":false}},"text":{"field":"t","type":"nominal"}}},
{"data":{"name":"bt"},"transform":[{"filter":"datum.p==='g' && datum.k==='tr'"}],"mark":{"type":"text","fontSize":22,"align":"left","baseline":"alphabetic","color":"#222222"},"encoding":{"x":{"field":"avt","type":"quantitative","scale":{"domain":[0,1],"nice":false,"zero":false}},"y":{"field":"jph","type":"quantitative","scale":{"domain":[1.5,50],"nice":false,"zero":false}},"text":{"field":"t","type":"nominal"}}},
{"data":{"name":"bt"},"transform":[{"filter":"datum.p==='g' && datum.k==='let'"}],"mark":{"type":"text","fontSize":21,"align":"center","baseline":"alphabetic","color":"#111111"},"encoding":{"x":{"field":"avt","type":"quantitative","scale":{"domain":[0,1],"nice":false,"zero":false}},"y":{"field":"jph","type":"quantitative","scale":{"domain":[1.5,50],"nice":false,"zero":false}},"text":{"field":"t","type":"nominal"}}}
]}
],"spacing":47,"bounds":"flush","resolve":{"scale":{"x":"independent","y":"independent","color":"independent"}}}
]
}
